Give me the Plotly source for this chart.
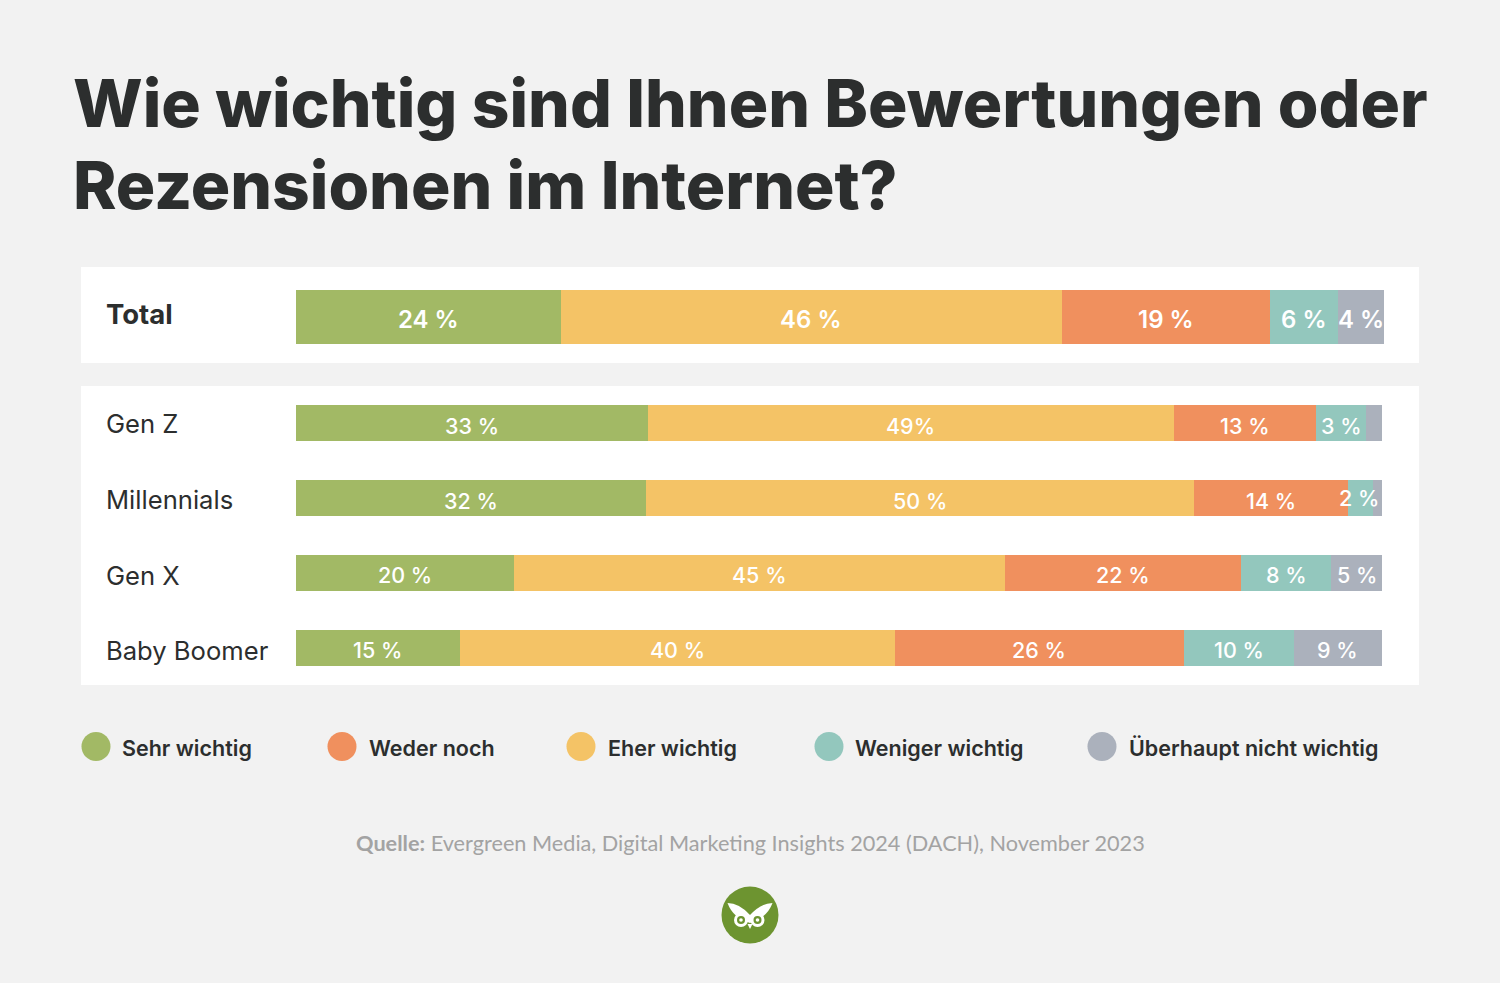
import plotly.graph_objects as go

W, H = 1500, 983
series = ["Sehr wichtig", "Eher wichtig", "Weder noch", "Weniger wichtig", "Überhaupt nicht wichtig"]
colors = ["#a2b965", "#f4c366", "#f0905e", "#93c7bd", "#abb1bc"]
total_cat = ["Total"]
total_vals = [[24.33], [46.1], [19.1], [6.25], [4.22]]
total_text = [["24 %"], ["46 %"], ["19 %"], ["6 %"], ["4 %"]]
groups = ["Gen Z", "Millennials", "Gen X", "Baby Boomer"]
group_vals = [
    [32.35, 32.15, 20.0, 15.05],
    [48.35, 50.4, 45.15, 40.0],
    [13.05, 14.15, 21.7, 26.55],
    [4.6, 2.3, 8.3, 10.1],
    [1.5, 0.85, 4.65, 8.1],
]
group_text = [
    ["33 %", "32 %", "20 %", "15 %"],
    ["49%", "50 %", "45 %", "40 %"],
    ["13 %", "14 %", "22 %", "26 %"],
    ["3 %", "2 %", "8 %", "10 %"],
    ["", "", "5 %", "9 %"],
]
legend_order = [0, 2, 1, 3, 4]
legend_cx = [96, 342, 581, 829, 1102]
legend_tx = [119.5, 366.5, 605.5, 853.5, 1126.5]

TXT = "#2c2e2e"
FONT = "Inter"
def px(x): return x / W
def py(y): return 1 - y / H

fig = go.Figure()
for i, s in enumerate(series):
    fig.add_bar(x=[total_vals[i][0]], y=total_cat, orientation="h", marker=dict(color=colors[i], line_width=0),
                xaxis="x", yaxis="y", name=s, showlegend=False, width=0.5625)
    fig.add_bar(x=group_vals[i], y=groups, orientation="h", marker=dict(color=colors[i], line_width=0),
                xaxis="x2", yaxis="y2", name=s, showlegend=False, width=0.48)

shapes = [
    dict(type="rect", xref="paper", yref="paper", x0=px(81), x1=px(1419), y0=py(267), y1=py(363),
         fillcolor="white", line_width=0, layer="below"),
    dict(type="rect", xref="paper", yref="paper", x0=px(81), x1=px(1419), y0=py(386), y1=py(685),
         fillcolor="white", line_width=0, layer="below"),
]
ann = []
def text(x, y, t, size, color=TXT, weight=400, anchor="left", fam=FONT):
    ann.append(dict(xref="paper", yref="paper", x=px(x), y=py(y), text=t, showarrow=False, xanchor=anchor,
                    yanchor="middle", font=dict(family=fam, size=size, color=color, weight=weight)))

# Segment labels, centred on their stacked segment
def seg_labels(vals, texts, cats, xref, yref, size, weight):
    for r, cat in enumerate(cats):
        left = 0.0
        for i in range(len(series)):
            v = vals[i][r]
            t = texts[i][r]
            if t:
                xshift = -2 if t == "2 %" else 0
                ann.append(dict(xref=xref, yref=yref, x=left + v / 2, y=cat, text=t, showarrow=False,
                                xanchor="center", yanchor="middle", yshift=-2.5 if t != "2 %" else 0, xshift=xshift,
                                font=dict(family=FONT, size=size, color="white", weight=weight)))
            left += v
seg_labels(total_vals, total_text, total_cat, "x", "y", 24, 600)
seg_labels(group_vals, group_text, groups, "x2", "y2", 21.5, 500)

text(70.5, 103, "Wie wichtig sind Ihnen Bewertungen oder", 65.8, weight=800)
text(70.5, 185, "Rezensionen im Internet?", 65.8, weight=800)
text(103.5, 314, "Total", 27.5, weight=700)
for lbl, y in zip(groups, [424, 499, 575, 650]):
    text(103.5, y, lbl, 25.6, weight=400)
for k, idx in enumerate(legend_order):
    cx = legend_cx[k]
    shapes.append(dict(type="circle", xref="paper", yref="paper", x0=px(cx - 14.5), x1=px(cx + 14.5),
                       y0=py(732), y1=py(761), fillcolor=colors[idx], line_width=0))
    text(legend_tx[k], 748, series[idx], 21.5, weight=600)
ann.append(dict(xref="paper", yref="paper", x=px(750), y=py(843), showarrow=False, xanchor="center", yanchor="middle",
                text="<b>Quelle:</b> Evergreen Media, Digital Marketing Insights 2024 (DACH), November 2023",
                font=dict(family="Lato", size=21.7, color="#a3a3a3")))

# Logo
def circle(cx, cy, r, col):
    shapes.append(dict(type="circle", xref="paper", yref="paper", x0=px(cx - r), x1=px(cx + r),
                       y0=py(cy - r), y1=py(cy + r), fillcolor=col, line_width=0))
def path(cmds, col):
    d = ""
    for c in cmds:
        if isinstance(c, str):
            d += c + " "
        else:
            d += f"{px(c[0]):.5f},{py(c[1]):.5f} "
    shapes.append(dict(type="path", xref="paper", yref="paper", path=d + "Z", fillcolor=col, line_width=0))
G = "#6d9430"
circle(750, 915, 28.5, G)
path(["M", (727.5, 903), "Q", (739, 903), (750, 915), "L", (750, 923), "Q", (733, 918), (727.5, 903)], "white")
path(["M", (772.5, 903), "Q", (761, 903), (750, 915), "L", (750, 923), "Q", (767, 918), (772.5, 903)], "white")
for cx in (741, 757.5):
    circle(cx, 920, 7, "white")
    circle(cx, 920, 4, G)
    circle(cx, 920, 1.8, "white")
path(["M", (747.5, 924), "L", (752.5, 924), "L", (750, 929)], "white")

ax = dict(range=[0, 100], showgrid=False, zeroline=False, showticklabels=False, showline=False, fixedrange=True)
yax = dict(showgrid=False, zeroline=False, showticklabels=False, showline=False, type="category", fixedrange=True)
fig.update_layout(
    width=W, height=H, autosize=False, margin=dict(l=0, r=0, t=0, b=0),
    paper_bgcolor="#f2f2f2", plot_bgcolor="rgba(0,0,0,0)", barmode="stack", bargap=0,
    xaxis=dict(ax, domain=[px(296), px(1384)], anchor="y"),
    xaxis2=dict(ax, domain=[px(296), px(1384)], anchor="y2"),
    yaxis=dict(yax, domain=[py(365), py(269)], anchor="x", range=[-0.5, 0.5]),
    yaxis2=dict(yax, domain=[py(685), py(386)], anchor="x2", autorange="reversed"),
    shapes=shapes, annotations=ann, showlegend=False,
)
fig.write_html("out.html", config={"displayModeBar": False},
               post_script="document.body.style.margin='0';document.body.style.overflow='hidden';document.body.style.background='#f2f2f2';")
